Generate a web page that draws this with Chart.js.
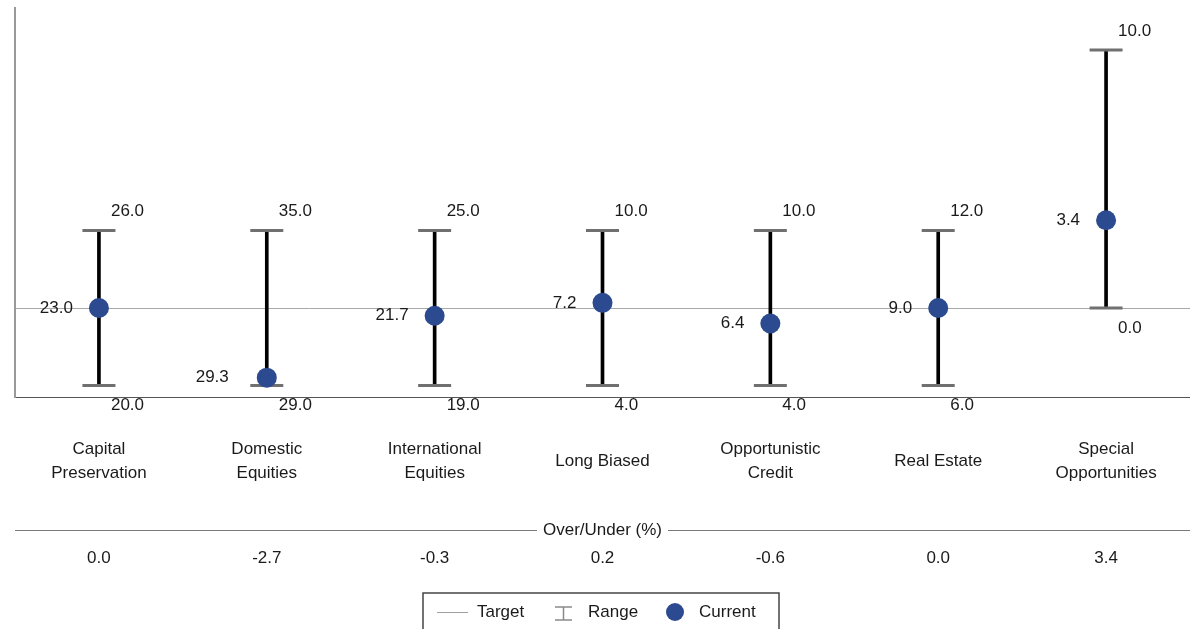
<!DOCTYPE html>
<html>
<head>
<meta charset="utf-8">
<script src="https://cdn.jsdelivr.net/npm/chart.js@4"></script>
<style>
  body { margin: 0; background: #fff; }
  #wrap { position: relative; width: 1190px; height: 629px; }
</style>
</head>
<body>
<div id="wrap"><canvas id="rangeChart"></canvas></div>
<script>
const categories = [
    ["Capital", "Preservation"],
    ["Domestic", "Equities"],
    ["International", "Equities"],
    ["Long Biased"],
    ["Opportunistic", "Credit"],
    ["Real Estate"],
    ["Special", "Opportunities"]
];
const current = [23.0, 29.3, 21.7, 7.2, 6.4, 9.0, 3.4];
const target = [23.0, 32.0, 22.0, 7.0, 7.0, 9.0, 0.0];
const rangeMin = [20.0, 29.0, 19.0, 4.0, 4.0, 6.0, 0.0];
const rangeMax = [26.0, 35.0, 25.0, 10.0, 10.0, 12.0, 10.0];

// everything is plotted relative to target
const overUnder = current.map((v, i) => v - target[i]);
const lowDev = rangeMin.map((v, i) => v - target[i]);
const highDev = rangeMax.map((v, i) => v - target[i]);

const FONT = '17px "Liberation Sans", Arial, sans-serif';
const TEXT = "#1a1a1a";
const DOT = "#2b4a8f";

const labelPlugin = {
    id: "labels",
    afterDraw(chart) {
        const ctx = chart.ctx;
        const xs = chart.scales.x;
        const ys = chart.scales.y;
        const area = chart.chartArea;
        ctx.save();
        ctx.font = FONT;
        ctx.fillStyle = TEXT;
        ctx.textBaseline = "middle";

        categories.forEach((cat, i) => {
            const x = xs.getPixelForValue(i);
            const yHi = ys.getPixelForValue(highDev[i]);
            const yLo = ys.getPixelForValue(lowDev[i]);
            const yCur = ys.getPixelForValue(overUnder[i]);

            ctx.textAlign = "left";
            ctx.fillText(rangeMax[i].toFixed(1), x + 12, yHi - 19);
            ctx.fillText(rangeMin[i].toFixed(1), x + 12, yLo + 20);

            // push the label clear of a cap when the dot sits on it
            const nearCap = Math.abs(yCur - yLo) < 12 && lowDev[i] !== 0;
            ctx.textAlign = "right";
            ctx.fillText(current[i].toFixed(1), x - (nearCap ? 38 : 26), yCur);

            ctx.textAlign = "center";
            const top = cat.length === 1 ? 461 : 449;
            cat.forEach((line, k) => ctx.fillText(line, x, top + k * 24));

            ctx.fillText(overUnder[i].toFixed(1), x, 558);
        });

        // Over/Under divider
        const midX = (area.left + area.right) / 2;
        const title = "Over/Under (%)";
        const tw = ctx.measureText(title).width;
        ctx.strokeStyle = "#7a7a7a";
        ctx.lineWidth = 1;
        ctx.beginPath();
        ctx.moveTo(area.left, 530.5);
        ctx.lineTo(midX - tw / 2 - 6, 530.5);
        ctx.moveTo(midX + tw / 2 + 6, 530.5);
        ctx.lineTo(area.right, 530.5);
        ctx.stroke();
        ctx.fillText(title, midX, 530);

        // legend box
        ctx.strokeStyle = "#444";
        ctx.lineWidth = 1.5;
        ctx.strokeRect(423, 593, 356, 50);
        ctx.strokeStyle = "#a0a0a0";
        ctx.lineWidth = 1;
        ctx.beginPath();
        ctx.moveTo(437, 612.5);
        ctx.lineTo(468, 612.5);
        ctx.stroke();
        ctx.textAlign = "left";
        ctx.fillText("Target", 477, 612);

        ctx.strokeStyle = "#8a8a8a";
        ctx.lineWidth = 1.5;
        ctx.beginPath();
        ctx.moveTo(555, 607); ctx.lineTo(572, 607);
        ctx.moveTo(555, 620); ctx.lineTo(572, 620);
        ctx.moveTo(563.5, 607); ctx.lineTo(563.5, 620);
        ctx.stroke();
        ctx.fillText("Range", 588, 612);

        ctx.fillStyle = DOT;
        ctx.beginPath();
        ctx.arc(675, 612, 9, 0, Math.PI * 2);
        ctx.fill();
        ctx.fillStyle = TEXT;
        ctx.fillText("Current", 699, 612);
        ctx.restore();
    }
};

new Chart(document.getElementById("rangeChart"), {
    type: "bar",
    data: {
        labels: categories.map(c => c.join(" ")),
        datasets: [
            {
                type: "line",
                label: "Current",
                data: overUnder,
                showLine: false,
                pointRadius: 10,
                pointBackgroundColor: DOT,
                pointBorderWidth: 0,
                order: 0
            },
            {
                type: "line",
                label: "High",
                data: highDev,
                showLine: false,
                pointStyle: "line",
                pointRadius: 16.5,
                pointBorderColor: "#707070",
                pointBorderWidth: 3,
                order: 1
            },
            {
                type: "line",
                label: "Low",
                data: lowDev,
                showLine: false,
                pointStyle: "line",
                pointRadius: 16.5,
                pointBorderColor: "#707070",
                pointBorderWidth: 3,
                order: 1
            },
            {
                label: "Range",
                data: lowDev.map((v, i) => [v, highDev[i]]),
                backgroundColor: "#000",
                barThickness: 3,
                order: 2
            }
        ]
    },
    options: {
        responsive: true,
        maintainAspectRatio: false,
        animation: false,
        layout: { autoPadding: false, padding: { top: 8, left: 15, right: 0, bottom: 232 } },
        plugins: {
            legend: { display: false },
            tooltip: { enabled: false }
        },
        scales: {
            x: {
                offset: true,
                grid: { display: false, drawTicks: false },
                ticks: { display: false },
                border: { color: "#555", width: 1 }
            },
            y: {
                min: -3.45,
                max: 11.63,
                afterBuildTicks: axis => { axis.ticks = [{ value: 0 }]; },
                grid: { color: "#a8a8a8", lineWidth: 1, drawTicks: false },
                ticks: { display: false },
                border: { color: "#999", width: 2 }
            }
        }
    },
    plugins: [labelPlugin]
});
</script>
</body>
</html>
